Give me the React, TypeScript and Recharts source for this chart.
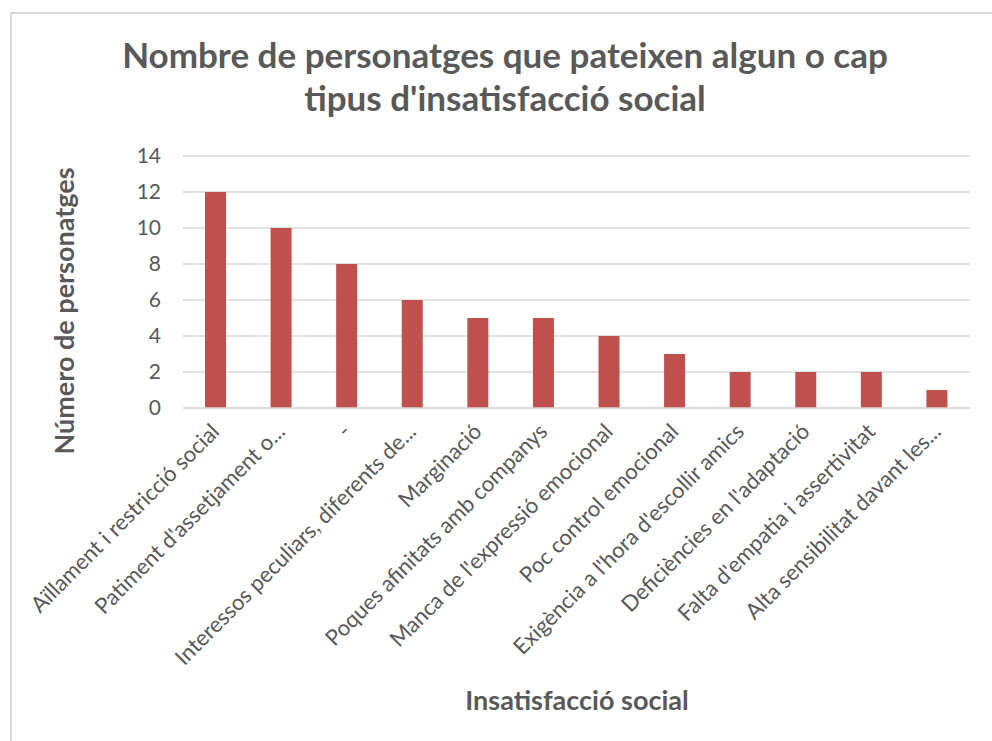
import React from "react";
import { BarChart, Bar, XAxis, YAxis, CartesianGrid } from "recharts";

const categories = [
  "Aïllament i restricció social",
  "Patiment d'assetjament o...",
  "-",
  "Interessos peculiars, diferents de...",
  "Marginació",
  "Poques afinitats amb companys",
  "Manca de l'expressió emocional",
  "Poc control emocional",
  "Exigència a l'hora d'escollir amics",
  "Deficiències en l'adaptació",
  "Falta d'empatia i assertivitat",
  "Alta sensibilitat davant les...",
];
const values = [12, 10, 8, 6, 5, 5, 4, 3, 2, 2, 2, 1];
const yTicks = [0, 2, 4, 6, 8, 10, 12, 14];
const titleLines = [
  "Nombre de personatges que pateixen algun o cap",
  "tipus d'insatisfacció social",
];
const xTitle = "Insatisfacció social";
const yTitle = "Número de personatges";

const data = categories.map((c, i) => ({ name: c, value: values[i] }));

const FONT = "Lato, 'Open Sans', sans-serif";
const GRAY = "#595959";

const XTick = (props: any) => {
  const { x, y, payload } = props;
  return (
    <g transform={`translate(${x + 5},${y + 17})`}>
      <text
        x={0}
        y={0}
        textAnchor="end"
        transform="rotate(-45)"
        fill={GRAY}
        fontSize={22}
        fontFamily={FONT}
      >
        {payload.value}
      </text>
    </g>
  );
};

export default function App() {
  return (
    <div style={{ position: "absolute", left: 0, top: 0, width: 980, height: 735 }}>
      <div
        style={{
          position: "absolute",
          left: 10,
          top: 12,
          width: 982,
          height: 729,
          boxSizing: "border-box",
          borderTop: "2px solid #d9d9d9",
          borderLeft: "2px solid #d9d9d9",
        }}
      />
      <div
        style={{
          position: "absolute",
          left: 0,
          top: 33,
          width: 1010,
          textAlign: "center",
          fontFamily: FONT,
          fontWeight: 700,
          fontSize: 35,
          lineHeight: "43px",
          color: GRAY,
        }}
      >
        {titleLines.map((t, i) => (
          <div key={i}>{t}</div>
        ))}
      </div>
      <div
        style={{
          position: "absolute",
          left: 63,
          top: 311,
          transform: "translate(-50%,-50%) rotate(-90deg)",
          whiteSpace: "nowrap",
          fontFamily: FONT,
          fontWeight: 700,
          fontSize: 27,
          color: GRAY,
        }}
      >
        {yTitle}
      </div>
      <div
        style={{
          position: "absolute",
          left: 577,
          top: 699,
          transform: "translate(-50%,-50%)",
          whiteSpace: "nowrap",
          fontFamily: FONT,
          fontWeight: 700,
          fontSize: 27,
          color: GRAY,
        }}
      >
        {xTitle}
      </div>
      <div style={{ position: "absolute", left: 0, top: 0 }}>
        <BarChart
          width={980}
          height={735}
          data={data}
          margin={{ top: 156, right: 10, left: 0, bottom: 0 }}
        >
          <CartesianGrid vertical={false} stroke="#d9d9d9" strokeWidth={1.5} />
          <XAxis
            dataKey="name"
            interval={0}
            tick={<XTick />}
            tickLine={false}
            axisLine={{ stroke: "#d9d9d9", strokeWidth: 1.5 }}
            height={327}
          />
          <YAxis
            width={183}
            domain={[0, 14]}
            ticks={yTicks}
            tickLine={false}
            axisLine={false}
            tickSize={0}
            tickMargin={22}
            tick={{ fill: GRAY, fontSize: 21, fontFamily: FONT }}
          />
          <Bar dataKey="value" fill="#C0504D" barSize={21} isAnimationActive={false} />
        </BarChart>
      </div>
    </div>
  );
}
